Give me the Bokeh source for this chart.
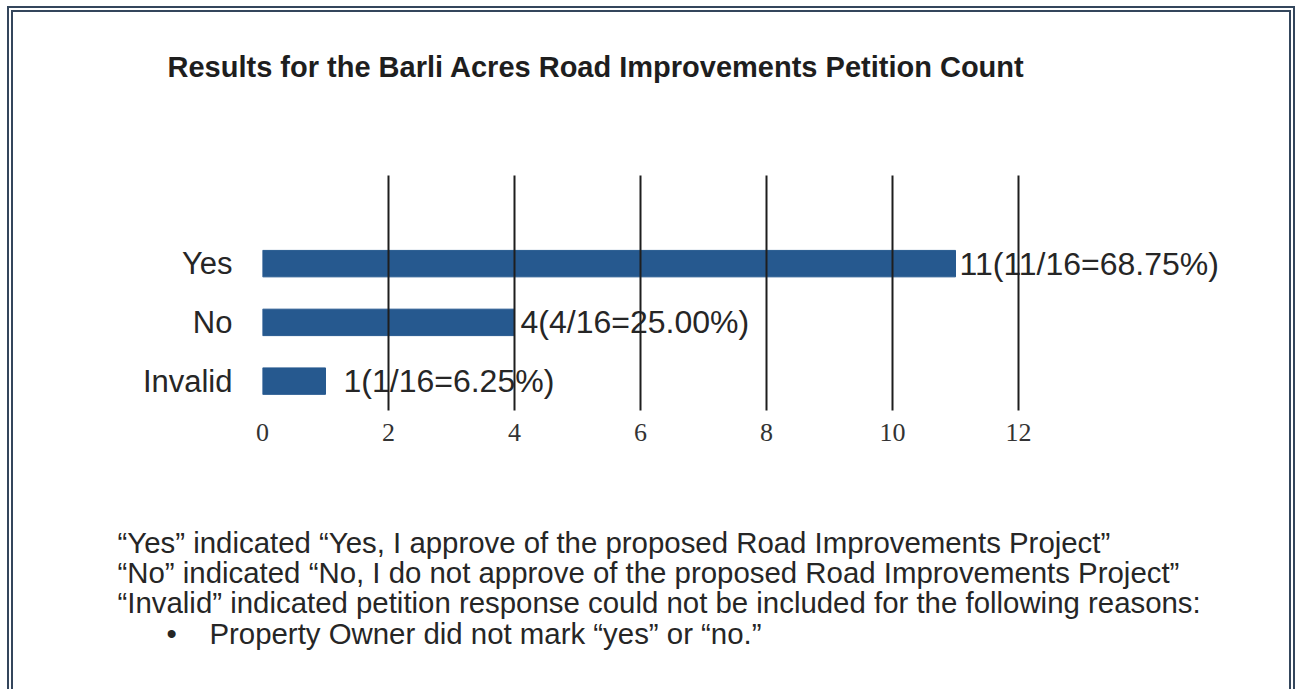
from bokeh.plotting import figure
from bokeh.models import Range1d, FixedTicker, ColumnDataSource, Title
from bokeh.core.properties import value
from bokeh.embed import file_html
from bokeh.resources import INLINE

# ---------------- data ----------------
title_text = "Results for the Barli Acres Road Improvements Petition Count"
categories = ["Invalid", "No", "Yes"]
counts = [1, 4, 11]
x_ticks = [0, 2, 4, 6, 8, 10, 12]
note_lines = [
    "\u201cYes\u201d indicated \u201cYes, I approve of the proposed Road Improvements Project\u201d",
    "\u201cNo\u201d indicated \u201cNo, I do not approve of the proposed Road Improvements Project\u201d",
    "\u201cInvalid\u201d indicated petition response could not be included for the following reasons:",
]
bullet_lines = ["Property Owner did not mark \u201cyes\u201d or \u201cno.\u201d"]

# ---------------- styles / layout ----------------
label_offsets = [18, 6, 4]          # px gap between bar end and its label
BAR = "#26598f"
TXT = "#262626"
FRAME_COL = "#34465c"

W, H = 1276, 677            # css content size
WEFF, HEFF = W + 12, H + 6  # size the layout actually uses (border included)
FL, FT, FB = 249, 163, 398
MBR = 12
PX_PER_X = 63.0
x_end = (WEFF - MBR - FL) / PX_PER_X
Y_END = 4.0

total = sum(counts)
value_labels = [f"{c}({c}/{total}={c / total * 100:.2f}%)" for c in counts]
y_pos = [i + 0.5 for i in range(len(categories))]

p = figure(width=W, height=H,
           x_range=Range1d(0, x_end), y_range=Range1d(0, Y_END),
           output_backend="svg", toolbar_location=None,
           min_border_left=FL, min_border_right=MBR,
           min_border_top=FT, min_border_bottom=HEFF - FB)
p.background_fill_color = "white"
p.border_fill_color = "white"
p.outline_line_color = None
p.styles = {"box-sizing": "content-box",
            "margin-left": "7px", "margin-top": "6px",
            "border-style": "double", "border-color": FRAME_COL,
            "border-width": "6px 6px 0px 6px"}

src = ColumnDataSource(dict(y=y_pos, count=counts, label=value_labels,
                            cat=categories, off=label_offsets))

p.hbar(y="y", left=0, right="count", height=0.45, source=src,
       fill_color=BAR, line_color=BAR)
p.text(x="count", y="y", text="label", x_offset="off", source=src,
       text_font=value("Liberation Sans"), text_font_size="32px",
       text_baseline="middle", text_align="left", text_color=TXT)

# x axis / grid
p.xaxis.ticker = FixedTicker(ticks=x_ticks)
p.xgrid.ticker = FixedTicker(ticks=x_ticks)
p.xgrid.grid_line_color = "#1e1e1e"
p.xgrid.grid_line_width = 2
p.xgrid.level = "overlay"
p.ygrid.visible = False
p.xaxis.axis_line_color = None
p.xaxis.major_tick_line_color = None
p.xaxis.minor_tick_line_color = None
p.xaxis.major_label_text_font = "Liberation Serif"
p.xaxis.major_label_text_font_size = "26px"
p.xaxis.major_label_text_color = "#333333"
p.xaxis.major_label_standoff = 7

# y axis (categories)
p.yaxis.ticker = FixedTicker(ticks=y_pos)
p.yaxis.major_label_overrides = {y: c for y, c in zip(y_pos, categories)}
p.yaxis.axis_line_color = None
p.yaxis.major_tick_line_color = None
p.yaxis.minor_tick_line_color = None
p.yaxis.major_label_text_font = "Liberation Sans"
p.yaxis.major_label_text_font_size = "31px"
p.yaxis.major_label_text_color = TXT
p.yaxis.major_label_standoff = 24

# title  (padding tuple order: left, right, top, bottom)
p.title.text = title_text
p.title.align = "left"
p.title.offset = -95
p.title.vertical_align = "bottom"
p.title.standoff = 0
p.title.padding = (0, 0, 0, 93)
p.title.text_font = "Liberation Sans"
p.title.text_font_style = "bold"
p.title.text_font_size = "29px"
p.title.text_color = "#1e1e1e"

# notes block below the axis
NB = "\u00a0"
bullet_text = [NB * 6 + "\u2022" + NB * 4 + b for b in bullet_lines]
notes_text = "\n".join(note_lines + bullet_text)
p.add_layout(Title(text=notes_text, align="left", offset=-145,
                   vertical_align="top", standoff=0, padding=(0, 0, 82, 0),
                   text_font="Liberation Sans", text_font_style="normal",
                   text_font_size="29.4px", text_color=TXT,
                   text_line_height=0.92), "below")

open("out.html", "w").write(file_html(p, INLINE))
